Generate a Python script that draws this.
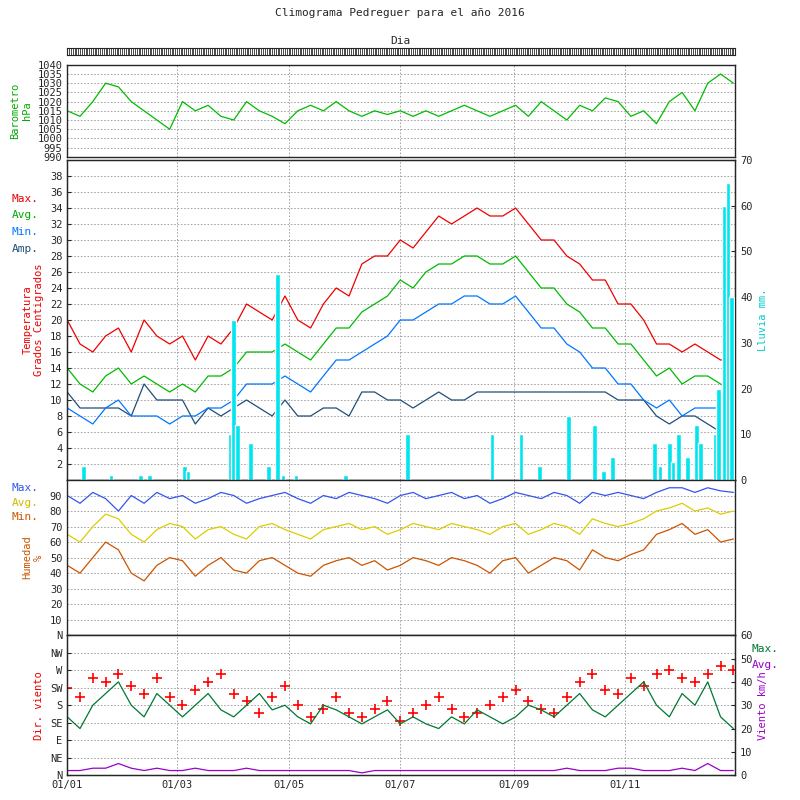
import numpy as np, pandas as pd, matplotlib
matplotlib.use("Agg")
import matplotlib.pyplot as plt, matplotlib.dates as mdates, seaborn as sns

sns.set_style("white")
plt.rcParams['font.family'] = ['DejaVu Sans Mono']
plt.rcParams['font.size'] = 7.5

weeks = pd.date_range("2016-01-01", periods=53, freq="7D")
baro = [1015,1012,1020,1030,1028,1020,1015,1010,1005,1020,1015,1018,1012,1010,1020,1015,1012,1008,1015,1018,1015,1020,1015,1012,1015,1013,1015,1012,1015,1012,1015,1018,1015,1012,1015,1018,1012,1020,1015,1010,1018,1015,1022,1020,1012,1015,1008,1020,1025,1015,1030,1035,1030]
tmax = [20,17,16,18,19,16,20,18,17,18,15,18,17,19,22,21,20,23,20,19,22,24,23,27,28,28,30,29,31,33,32,33,34,33,33,34,32,30,30,28,27,25,25,22,22,20,17,17,16,17,16,15,15]
tavg = [14,12,11,13,14,12,13,12,11,12,11,13,13,14,16,16,16,17,16,15,17,19,19,21,22,23,25,24,26,27,27,28,28,27,27,28,26,24,24,22,21,19,19,17,17,15,13,14,12,13,13,12,11]
tmin = [9,8,7,9,10,8,8,8,7,8,8,9,9,10,12,12,12,13,12,11,13,15,15,16,17,18,20,20,21,22,22,23,23,22,22,23,21,19,19,17,16,14,14,12,12,10,9,10,8,9,9,9,8]
rain_days = ["2016-01-10","2016-01-25","2016-02-10","2016-02-15","2016-03-05","2016-03-07","2016-03-30","2016-04-01","2016-04-03","2016-04-10","2016-04-20","2016-04-25","2016-04-28","2016-05-05","2016-06-01","2016-07-05","2016-08-20","2016-09-05","2016-09-15","2016-10-01","2016-10-15","2016-10-20","2016-10-25","2016-11-17","2016-11-20","2016-11-25","2016-11-27","2016-11-30","2016-12-05","2016-12-10","2016-12-12","2016-12-20","2016-12-22","2016-12-25","2016-12-27","2016-12-29"]
rain_mm = [3,1,1,1,3,2,10,35,12,8,3,45,1,1,1,10,10,10,3,14,12,2,5,8,3,8,4,10,5,12,8,10,20,60,65,40]
hmax = [90,85,92,88,80,90,85,92,88,90,85,88,92,90,85,88,90,92,88,85,90,88,92,90,88,85,90,92,88,90,92,88,90,85,88,92,90,88,92,90,85,92,90,92,90,88,92,95,95,92,95,93,92]
havg = [65,60,70,78,75,65,60,68,72,70,62,68,70,65,62,70,72,68,65,62,68,70,72,68,70,65,68,72,70,68,72,70,68,65,70,72,65,68,72,70,65,75,72,70,72,75,80,82,85,80,82,78,80]
hmin = [45,40,50,60,55,40,35,45,50,48,38,45,50,42,40,48,50,45,40,38,45,48,50,45,48,42,45,50,48,45,50,48,45,40,48,50,40,45,50,48,42,55,50,48,52,55,65,68,72,65,68,60,62]
wmax = [25,20,30,35,40,30,25,35,30,25,30,35,28,25,30,35,28,30,25,22,30,28,25,22,25,28,22,25,22,20,25,22,28,25,22,25,30,28,25,30,35,28,25,30,35,40,30,25,35,30,40,25,20]
wavg = [2,2,3,3,5,3,2,3,2,2,3,2,2,2,3,2,2,2,2,2,2,2,2,1,2,2,2,2,2,2,2,2,2,2,2,2,2,2,2,3,2,2,2,3,3,2,2,2,3,2,5,2,2]
wdir = [225,200,250,240,260,230,210,250,200,180,220,240,260,210,190,160,200,230,180,150,170,200,160,150,170,190,140,160,180,200,170,150,160,180,200,220,190,170,160,200,240,260,220,210,250,230,260,270,250,240,260,280,270]

df = pd.DataFrame(dict(d=weeks, baro=baro, tmax=tmax, tavg=tavg, tmin=tmin, hmax=hmax, havg=havg, hmin=hmin, wmax=wmax, wavg=wavg, wdir=wdir))
df["tamp"] = df.tmax - df.tmin
rain = pd.DataFrame(dict(d=pd.to_datetime(rain_days), mm=rain_mm))

fig = plt.figure(figsize=(8, 8), dpi=100)
L, W = 0.084, 0.835
x0, x1 = pd.Timestamp("2016-01-01"), pd.Timestamp("2016-12-31")
def setup(ax, showx=False):
    ax.set_xlim(x0, x1)
    ax.xaxis.set_major_locator(mdates.MonthLocator(bymonth=[1,3,5,7,9,11]))
    ax.xaxis.set_major_formatter(mdates.DateFormatter("%d/%m"))
    ax.grid(True, color="#999999", ls=(0,(2,2)), lw=0.6)
    ax.tick_params(labelbottom=showx, length=3, direction="in", labelsize=7.5)
    ax.set_xlabel(""); ax.set_ylabel("")
    for s in ax.spines.values(): s.set_linewidth(1.0)

rug = fig.add_axes([L, 0.931, W, 0.009])
rug.vlines(pd.date_range(x0, x1), 0, 1, color="black", lw=0.5)
rug.set_xlim(x0, x1); rug.set_xticks([]); rug.set_yticks([])
fig.text(0.5, 0.99, "Climograma Pedreguer para el año 2016", ha="center", va="top", fontsize=8)
fig.text(0.5, 0.955, "Dia", ha="center", va="top", fontsize=8)

a1 = fig.add_axes([L, 0.804, W, 0.115])
sns.lineplot(data=df, x="d", y="baro", ax=a1, color="#00bb00", lw=0.9)
a1.set_ylim(990, 1040); a1.set_yticks(range(990, 1041, 5)); setup(a1)
a1.set_ylabel("Barometro\nhPa", color="#00aa00")

a2 = fig.add_axes([L, 0.4, W, 0.4])
r2 = a2.twinx()
r2.bar(rain.d, rain.mm, width=2.5, color="#00e5ee")
r2.set_ylim(0, 70); r2.set_yticks(range(0, 71, 10)); r2.tick_params(direction="in", length=3, labelsize=7.5)
r2.set_ylabel("Lluvia mm.", color="#00cccc")
for c, col in [("tamp", "#1f4e79"), ("tmin", "#0077ff"), ("tavg", "#00bb00"), ("tmax", "#ee0000")]:
    sns.lineplot(data=df, x="d", y=c, ax=a2, color=col, lw=0.9)
a2.set_ylim(0, 40); a2.set_yticks(range(2, 39, 2)); setup(a2)
a2.set_ylabel("Temperatura\nGrados Centigrados", color="#ee0000")
for i, (t, col) in enumerate([("Max.", "#ee0000"), ("Avg.", "#00aa00"), ("Min.", "#0077ff"), ("Amp.", "#1f4e79")]):
    fig.text(0.015, 0.748 - i*0.021, t, color=col, fontsize=8)

a3 = fig.add_axes([L, 0.206, W, 0.194])
for c, col in [("hmin", "#cc5500"), ("havg", "#ddcc00"), ("hmax", "#3355ee")]:
    sns.lineplot(data=df, x="d", y=c, ax=a3, color=col, lw=0.9)
a3.set_ylim(0, 100); a3.set_yticks(range(10, 91, 10)); setup(a3)
a3.set_ylabel("Humedad\n%", color="#cc5500")
for i, (t, col) in enumerate([("Max.", "#3355ee"), ("Avg.", "#ccbb00"), ("Min.", "#cc5500")]):
    fig.text(0.015, 0.386 - i*0.018, t, color=col, fontsize=8)

a4 = fig.add_axes([L, 0.031, W, 0.175])
sns.scatterplot(data=df, x="d", y="wdir", ax=a4, marker="+", color="red", s=60, linewidth=1.2)
a4.set_ylim(0, 360); a4.set_yticks(range(0, 361, 45))
a4.set_yticklabels(["N","NE","E","SE","S","SW","W","NW","N"]); setup(a4, True)
a4.set_ylabel("Dir. viento", color="#ee0000")
r4 = a4.twinx()
sns.lineplot(data=df, x="d", y="wmax", ax=r4, color="#007733", lw=0.9)
sns.lineplot(data=df, x="d", y="wavg", ax=r4, color="#9900cc", lw=0.9)
r4.set_ylim(0, 60); r4.set_yticks(range(0, 61, 10)); r4.tick_params(direction="in", length=3, labelsize=7.5)
r4.set_ylabel("Viento km/h", color="#9900cc"); r4.set_xlabel("")
fig.text(0.94, 0.185, "Max.", color="#007733", fontsize=8)
fig.text(0.94, 0.165, "Avg.", color="#9900cc", fontsize=8)

fig.savefig("out.png", dpi=100)
